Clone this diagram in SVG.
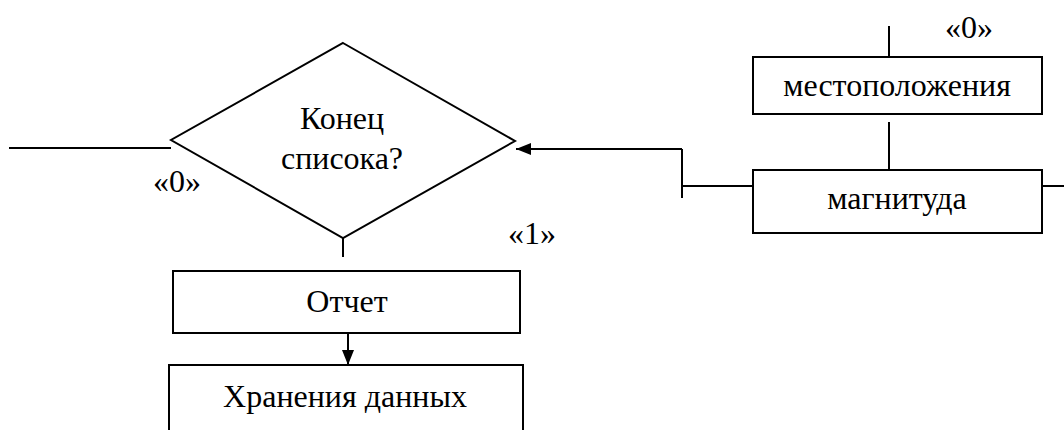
<svg xmlns="http://www.w3.org/2000/svg" width="1064" height="430" viewBox="0 0 1064 430">
<style>
.s{fill:#fff;stroke:#000;stroke-width:2}
.l{fill:none;stroke:#000;stroke-width:2}
text{font-family:"Liberation Serif","Times New Roman",serif;font-size:32px;fill:#000;text-anchor:middle}
</style>
<defs>
<marker id="ah" markerWidth="16" markerHeight="12" refX="15" refY="6" orient="auto" markerUnits="userSpaceOnUse">
<path d="M0,0 L15,6 L0,12 Z" fill="#000"/>
</marker>
</defs>
<rect width="1064" height="430" fill="#fff"/>
<g id="connectors">
<line class="l" x1="9" y1="148" x2="171" y2="148"/>
<line class="l" x1="343" y1="238" x2="343" y2="257"/>
<line class="l" x1="348" y1="333" x2="348" y2="365" marker-end="url(#ah)"/>
<line class="l" x1="889" y1="26" x2="889" y2="57"/>
<line class="l" x1="889" y1="122" x2="889" y2="170"/>
<line class="l" x1="1042" y1="186" x2="1064" y2="186"/>
<line class="l" x1="753" y1="186" x2="682" y2="186"/>
<line class="l" x1="682" y1="198" x2="682" y2="149"/>
<line class="l" x1="682" y1="149" x2="516" y2="149" marker-end="url(#ah)"/>
</g>
<g id="decision">
<polygon class="s" points="343,43 515,141 343,238 171,140"/>
<text x="342" y="129">Конец</text>
<text x="342" y="169">списока?</text>
</g>
<g id="report">
<rect class="s" x="173" y="271" width="347" height="62"/>
<text x="347" y="312">Отчет</text>
</g>
<g id="storage">
<rect class="s" x="169" y="365" width="354" height="70"/>
<text x="345" y="407">Хранения данных</text>
</g>
<g id="location">
<rect class="s" x="753" y="57" width="289" height="57"/>
<text x="897" y="96">местоположения</text>
</g>
<g id="magnitude">
<rect class="s" x="753" y="170" width="289" height="63"/>
<text x="897" y="209">магнитуда</text>
</g>
<g id="labels">
<text x="177" y="192">«0»</text>
<text x="532" y="244">«1»</text>
<text x="969" y="38">«0»</text>
</g>
</svg>
